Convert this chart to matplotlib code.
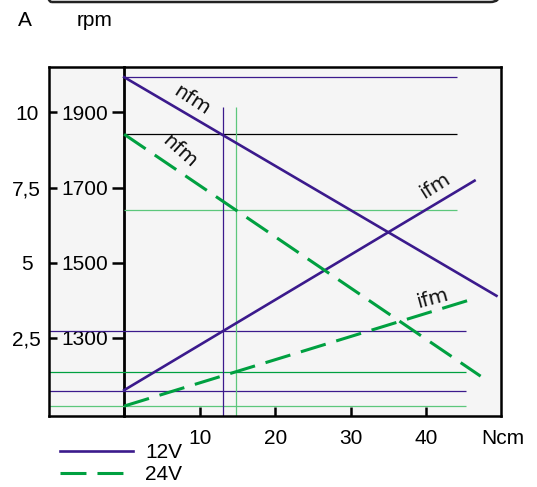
import matplotlib
matplotlib.use("Agg")
import matplotlib.pyplot as plt
from matplotlib.patches import FancyBboxPatch

# torque axis (Ncm) and curve end points
x_12 = [0, 49.3]
n_12 = [1994, 1412]      # rpm
x_12i = [0, 46.4]
i_12 = [0.76, 7.73]      # A
x_24 = [0, 47.2]
n_24 = [1842, 1198]
x_24i = [0, 46.0]
i_24 = [0.23, 3.78]

# working point markers
x_work = [13.1, 14.8]
rpm_marks = [1994, 1842, 1641]
rpm_marks_end = 44.1
amp_marks = [2.72, 1.35, 0.74, 0.24]
amp_marks_end = 45.2

rpm_ticks = [1900, 1700, 1500, 1300]
amp_ticks = ["10", "7,5", "5", "2,5"]
x_ticks = [0, 10, 20, 30, 40]
x_labels = ["", "10", "20", "30", "40"]


def a2rpm(a):
    return 1100 + 80 * a


purple = "#3b1a8c"
green = "#00a040"
lgreen = "#5cc77c"
plt.rcParams['font.family'] = ['Liberation Sans', 'DejaVu Sans']
fs = 15

fig = plt.figure(figsize=(5.37, 4.87), dpi=100)
W, H = 537, 487
ax = fig.add_axes([49 / W, 1 - 416 / H, (501 - 49) / W, (416 - 67) / H])
ax.set_facecolor("#f5f5f5")
xl = (-9.95, 49.9)
ax.set_xlim(*xl)
ax.set_ylim(1092, 2021)

# thin reference lines
ax.hlines(rpm_marks, 0, rpm_marks_end, colors=[purple, "black", lgreen], lw=0.9)
ax.hlines([a2rpm(a) for a in amp_marks], xl[0], amp_marks_end,
          colors=[purple, green, purple, lgreen], lw=0.9)
ax.vlines(x_work, 1092, 1915, colors=[purple, lgreen], lw=0.9)

# curves
l12, = ax.plot(x_12, n_12, color=purple, lw=1.9, label="12V")
ax.plot(x_12i, [a2rpm(a) for a in i_12], color=purple, lw=1.9)
l24, = ax.plot(x_24, n_24, color=green, lw=2.2, dashes=(8.5, 3.6), label="24V")
ax.plot(x_24i, [a2rpm(a) for a in i_24], color=green, lw=2.2, dashes=(8.5, 3.6))

tk = dict(fontsize=14.5, color="#111111", family="DejaVu Sans", ha="center", va="center")
ax.text(8.9, 1932, "nfm", rotation=-33, **tk)
ax.text(7.3, 1797, "nfm", rotation=-42, **tk)
ax.text(41.2, 1704, "ifm", rotation=32, **tk)
ax.text(40.8, 1404, "ifm", rotation=15, **tk)

for s in ax.spines.values():
    s.set_linewidth(1.8)

ax.set_xticks(x_ticks, labels=x_labels)
ax.set_yticks(rpm_ticks, labels=amp_ticks)
ax.tick_params(axis="x", direction="in", length=6.5, width=1.8, pad=9, labelsize=fs)
ax.tick_params(axis="y", direction="in", length=6, width=1.8, pad=16, labelsize=fs)
for t in ax.get_yticklabels():
    t.set_ha("center")

# inner rpm axis at torque 0
sec = ax.secondary_yaxis((0 - xl[0]) / (xl[1] - xl[0]), functions=(lambda y: y, lambda y: y))
sec.set_yticks(rpm_ticks)
sec.tick_params(direction="out", length=8.6, width=1.8, pad=3.2, labelsize=fs)
sec.spines["left"].set_linewidth(2)

ax.annotate("Ncm", xy=(1, 0), xycoords="axes fraction", xytext=(1, -16),
            textcoords="offset points", ha="center", va="center", fontsize=fs)
fig.text(25 / W, 1 - 20 / H, "A", ha="center", va="center", fontsize=fs)
fig.text(95 / W, 1 - 20 / H, "rpm", ha="center", va="center", fontsize=fs)

fig.legend(handles=[l12, l24], loc="upper left", bbox_to_anchor=(60 / W, 1 - 443 / H),
           frameon=False, fontsize=fs, handlelength=3.5, handletextpad=0.6,
           labelspacing=0.15, borderpad=0, borderaxespad=0)

# top frame edge
fig.patches.append(FancyBboxPatch((42 / W, 1 - 2 / H), 458 / W, 0.2,
                                  boxstyle="round,pad=0,rounding_size=0.018",
                                  transform=fig.transFigure, fill=False, lw=1.8,
                                  edgecolor="#222222"))

fig.savefig("out.png", dpi=100)
